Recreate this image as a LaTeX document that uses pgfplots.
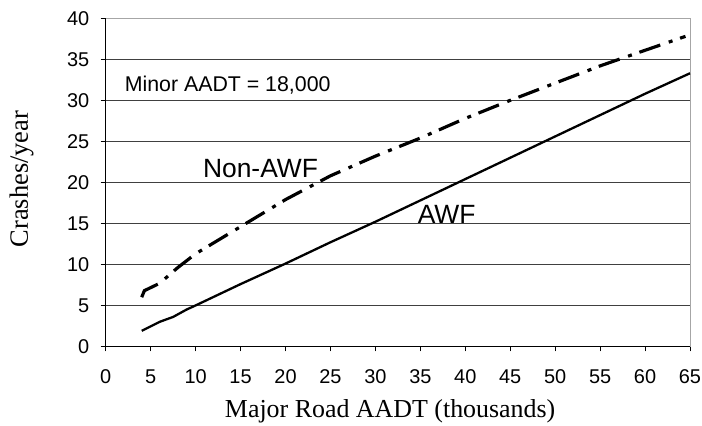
\documentclass[border=0pt]{standalone}
\usepackage{fontspec}
\setmainfont{Liberation Sans}
\newfontfamily\timesfont{Liberation Serif}
\usepackage{pgfplots}
\pgfplotsset{compat=1.18}

\pgfplotsset{
  /pgf/number format/assume math mode=true,
}

\begin{document}
\begin{tikzpicture}
  \begin{axis}[
    scale only axis,
    width=584bp, height=328bp,
    xmin=0, xmax=65,
    ymin=0, ymax=40,
    xtick distance=5,
    ytick distance=5,
    tick align=outside,
    xtick pos=bottom,
    ytick pos=left,
    major tick length=5bp,
    tick style={black, line width=0.8pt},
    axis line style={draw=gray!70, line width=0.8pt},
    ymajorgrids,
    major grid style={black!75, line width=0.6pt},
    ticklabel style={font=\fontsize{20}{24}\selectfont},
    yticklabel style={xshift=-8bp},
    xticklabel style={yshift=-15bp},
    xlabel={\timesfont\fontsize{26}{30}\selectfont Major Road AADT (thousands)},
    ylabel={\timesfont\fontsize{26.5}{30}\selectfont Crashes/year},
    xlabel style={at={(axis description cs:0.4868,-0.2165)}, anchor=base},
    ylabel style={at={(axis description cs:-0.144,0.51)}, anchor=center},
    clip=false,
  ]
    \draw[black, line width=0.9pt] (rel axis cs:0,1) -- (rel axis cs:0,0) -- (rel axis cs:1,0);

    % AWF
    \addplot[black, line width=2.3pt] coordinates {
      (4,1.9) (6,3.0) (7.5,3.6) (9,4.5) (10,5.0) (15,7.6) (20,10.1)
      (25,12.7) (30,15.2) (35,17.8) (40,20.4) (45,23.0) (50,25.6)
      (55,28.2) (60,30.8) (65,33.3)
    };

    % Non-AWF
    \addplot[black, line width=3.2pt, dash pattern=on 22bp off 9bp on 4bp off 8bp] coordinates {
      (4,6.0) (4.3,6.8) (6,7.7) (8,9.6) (10,11.3) (15,14.6) (20,17.9)
      (25,20.8) (30,23.2) (35,25.4) (40,27.8) (45,30.0) (50,32.1)
      (55,34.2) (60,36.1) (64.5,37.8)
    };

    \node[anchor=base west, inner sep=0pt, font=\fontsize{21.4}{25}\selectfont] at (axis cs:2.1,31.1) {Minor AADT = 18,000};
    \node[anchor=base west, inner sep=0pt, font=\fontsize{26.5}{30}\selectfont] at (axis cs:10.8,20.6) {Non-AWF};
    \node[anchor=base west, inner sep=0pt, font=\fontsize{26.5}{30}\selectfont] at (axis cs:34.7,15.0) {AWF};
  \end{axis}
  \pgfresetboundingbox
  \path (current axis.south west) ++(-105.7bp,-79bp) coordinate (bl);
  \path (current axis.north east) ++(12bp,18.3bp) coordinate (tr);
  \path[use as bounding box] (bl) rectangle (tr);
\end{tikzpicture}
\end{document}
